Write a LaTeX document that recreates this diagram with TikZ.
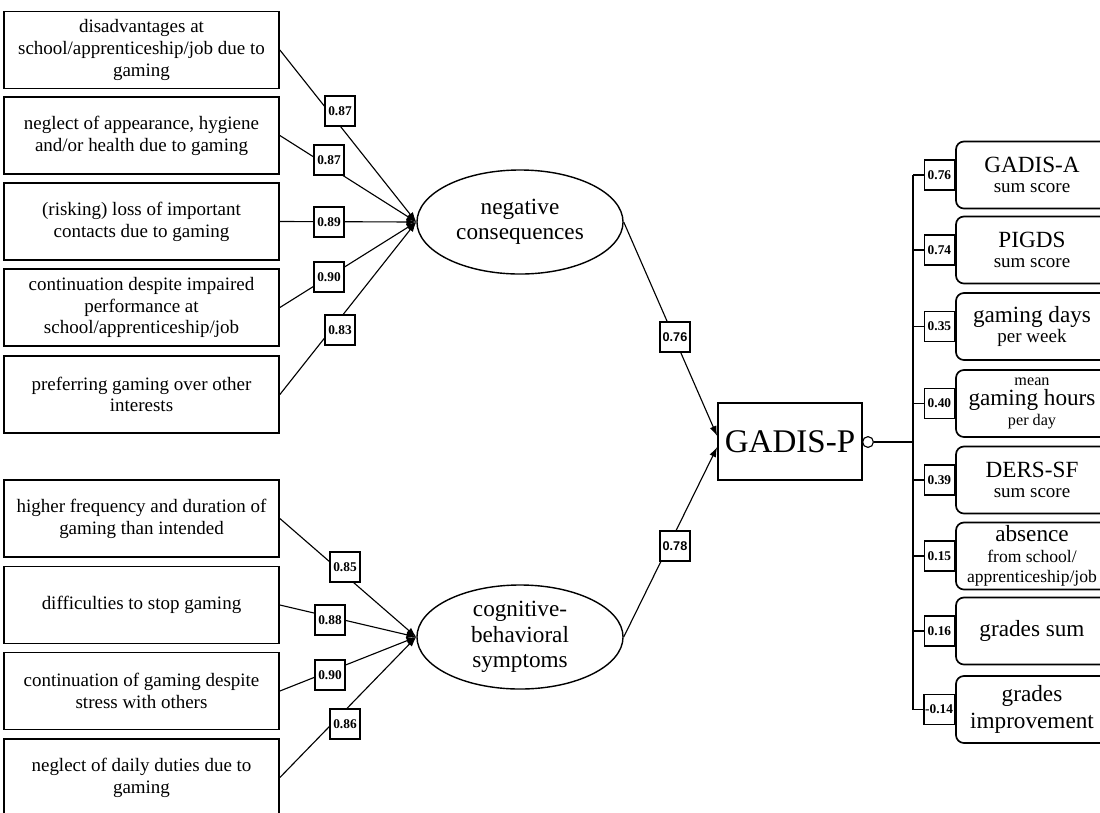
\documentclass[tikz,border=0pt]{standalone}
\usepackage{fontspec}
\setmainfont{Liberation Serif}
\setsansfont{Liberation Sans}
\usetikzlibrary{shapes.geometric,arrows.meta}

\newcommand\bigtxt{\fontsize{16.5}{19}\selectfont}
\newcommand\midtxt{\fontsize{12.5}{14.5}\selectfont}
\newcommand\subtxt{\fontsize{13.5}{16}\selectfont}
\newcommand\tinytxt{\fontsize{11.5}{12.5}\selectfont}

\begin{document}
\begin{tikzpicture}[x=0.025cm, y=-0.025cm,
    item/.style={draw, line width=1.2pt, minimum width=6.875cm, minimum height=1.925cm,
                 align=center, inner sep=2pt, font=\fontsize{13.5}{15.5}\selectfont},
    factor/.style={ellipse, draw, line width=1pt, minimum width=5.15cm, minimum height=2.6cm,
                   inner sep=0pt, align=center, font=\fontsize{16.5}{18}\selectfont},
    total/.style={draw, line width=1.2pt, minimum width=3.6cm, minimum height=1.925cm,
                  font=\fontsize{23.5}{26}\selectfont},
    crit/.style={draw, line width=1.2pt, rounded corners=0.2cm, minimum width=3.8cm,
                 minimum height=1.675cm, align=center, inner sep=1pt, font=\midtxt},
    load/.style={draw, fill=white, line width=1pt, minimum size=0.75cm, inner sep=1pt,
                 font=\fontsize{9.5}{10}\selectfont\bfseries},
    link/.style={-{Latex[length=7pt,width=5pt]}, line width=0.8pt}]
  \useasboundingbox (0,0) rectangle (1100,812);

  % indicators
  \node[item] (n1) at (141.5,50)    {disadvantages at\\school/apprenticeship/job due to\\gaming};
  \node[item] (n2) at (141.5,135.5) {neglect of appearance, hygiene\\and/or health due to gaming};
  \node[item] (n3) at (141.5,221.5) {(risking) loss of important\\contacts due to gaming};
  \node[item] (n4) at (141.5,307.5) {continuation despite impaired\\performance at\\school/apprenticeship/job};
  \node[item] (n5) at (141.5,394.5) {preferring gaming over other\\interests};
  \node[item] (s1) at (141.5,518.5) {higher frequency and duration of\\gaming than intended};
  \node[item] (s2) at (141.5,605)   {difficulties to stop gaming};
  \node[item] (s3) at (141.5,691)   {continuation of gaming despite\\stress with others};
  \node[item] (s4) at (141.5,777.5) {neglect of daily duties due to\\gaming};

  % factors
  \node[factor] (neg) at (520,222) {negative\\consequences};
  \node[factor] (cog) at (520,637) {cognitive-\\behavioral\\symptoms};
  \node[total] (gp) at (790,441.5) {GADIS-P};
  \node[circle, draw, line width=0.8pt, minimum size=0.27cm, inner sep=0pt] (res) at (868,442) {};

  % criteria
  \node[crit] (c1) at (1032,175)   {{\bigtxt GADIS-A}\\{\subtxt sum score}};
  \node[crit] (c2) at (1032,250)   {{\bigtxt PIGDS}\\{\subtxt sum score}};
  \node[crit] (c3) at (1032,326.5) {{\bigtxt gaming days}\\{\subtxt per week}};
  \node[crit] (c4) at (1032,403.5) {{\tinytxt mean}\\{\bigtxt gaming hours}\\{\tinytxt per day}};
  \node[crit] (c5) at (1032,480)   {{\bigtxt DERS-SF}\\{\subtxt sum score}};
  \node[crit] (c6) at (1032,556)   {{\bigtxt absence}\\from school/\\apprenticeship/job};
  \node[crit, font=\bigtxt] (c7) at (1032,631)   {grades sum};
  \node[crit, font=\bigtxt] (c8) at (1032,709.5) {grades\\improvement};

  % loadings
  \foreach \i in {1,...,5}
    \draw[link] (n\i.east) -- (neg.west);
  \foreach \i in {1,...,4}
    \draw[link] (s\i.east) -- (cog.west);
  \draw[link] (neg.east) -- ([yshift=0.14cm]gp.west);
  \draw[link] (cog.east) -- ([yshift=-0.14cm]gp.west);

  \node[load] (l1) at (340,111) {0.87};
  \node[load] (l2) at (329,160) {0.87};
  \node[load] (l3) at (329,222) {0.89};
  \node[load] (l4) at (329,277) {0.90};
  \node[load] (l5) at (340,330) {0.83};
  \node[load] (k1) at (345,567) {0.85};
  \node[load] (k2) at (330,620) {0.88};
  \node[load] (k3) at (330,675) {0.90};
  \node[load] (k4) at (345,724) {0.86};
  \node[load, font=\sffamily\bfseries\fontsize{9}{10}\selectfont] (m1) at (675,337) {0.76};
  \node[load, font=\sffamily\bfseries\fontsize{9}{10}\selectfont] (m2) at (675,546) {0.78};

  % correlations
  \coordinate (bus) at (913,442);
  \draw[line width=0.8pt] (res) -- (bus);
  \foreach \i/\v in {1/0.76,2/0.74,3/0.35,4/0.40,5/0.39,6/0.15,7/0.16,8/-0.14}
    \node[load] (r\i) at (c\i.west) [anchor=east] {\v};
  \draw[line width=0.8pt] (r1.west -| bus) -- (r8.west -| bus);
  \foreach \i in {1,...,8}
    \draw[line width=0.8pt] (r\i.west -| bus) -- (r\i.west);
\end{tikzpicture}
\end{document}
